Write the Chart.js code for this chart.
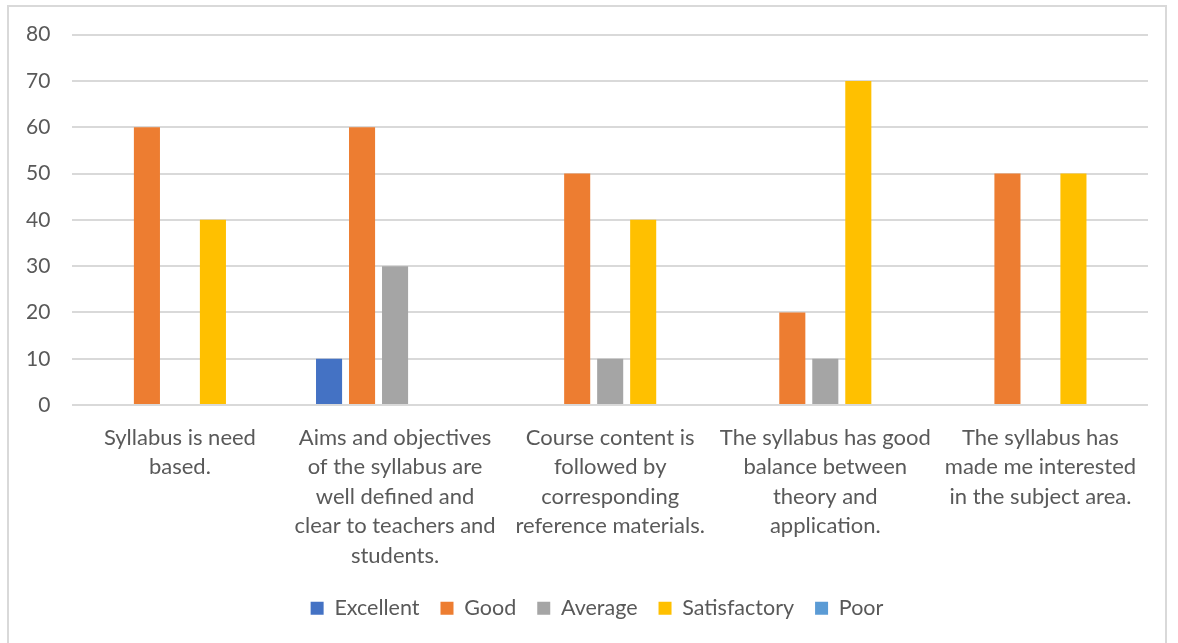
<!DOCTYPE html>
<html><head><meta charset="utf-8">
<script src="https://cdn.jsdelivr.net/npm/chart.js@4.4.1/dist/chart.umd.min.js"></script>
<style>
html,body{margin:0;padding:0;background:#fff;width:1178px;height:643px;overflow:hidden}
#frame{position:absolute;left:7px;top:5px;width:1160px;height:645px;border:2px solid #d9d9d9;box-sizing:border-box}
#wrap{position:absolute;left:0;top:0;width:1178px;height:643px}
</style></head><body>
<div id="frame"></div>
<div id="wrap"><canvas id="c" width="1178" height="643"></canvas></div>
<script>
const categories = [
  ["Syllabus is need","based."],
  ["Aims and objectives","of the syllabus are","well defined and","clear to teachers and","students."],
  ["Course content is","followed by","corresponding","reference materials."],
  ["The syllabus has good","balance between","theory and","application."],
  ["The syllabus has","made me interested","in the subject area."]
];
const excellent = [0,10,0,0,0];
const good = [60,60,50,20,50];
const average = [0,30,10,10,0];
const satisfactory = [40,0,40,70,50];
const poor = [0,0,0,0,0];
const seriesNames = ["Excellent","Good","Average","Satisfactory","Poor"];
const colors = ["#4472c4","#ed7d31","#a5a5a5","#ffc000","#5b9bd5"];
const yTicks = [0,10,20,30,40,50,60,70,80];

const font = "Lato, 'Open Sans', sans-serif";
const series = [excellent,good,average,satisfactory,poor];
const legendShift = {
  id:'legendShift',
  afterLayout(chart){ const l=chart.legend; if(l){ l.top -= 12; l.bottom -= 12; l.left += 21; l.right += 21; } }
};
new Chart(document.getElementById('c'), {
  type:'bar',
  data:{
    labels:categories,
    datasets: series.map((d,i)=>({label:seriesNames[i],data:d,backgroundColor:colors[i],borderWidth:0,barPercentage:0.79,categoryPercentage:0.767}))
  },
  options:{
    responsive:false,animation:false,
    layout:{padding:{left:4,right:30,top:24,bottom:2}},
    plugins:{
      legend:{position:'bottom',labels:{boxWidth:13,boxHeight:13,padding:21,color:'#595959',font:{family:font,size:21.5}}},
      tooltip:{enabled:false}
    },
    scales:{
      x:{grid:{display:false,drawTicks:false},border:{display:false},
         ticks:{color:'#595959',padding:18,maxRotation:0,autoSkip:false,font:{family:font,size:22,lineHeight:1.34}}},
      y:{min:0,max:80,afterBuildTicks:(s)=>{s.ticks=yTicks.map(v=>({value:v}));},
         grid:{color:'#d9d9d9',lineWidth:2,drawTicks:false},border:{display:false},
         ticks:{color:'#595959',padding:22,font:{family:font,size:21}}}
    }
  },
  plugins:[legendShift]
});
</script>
</body></html>
